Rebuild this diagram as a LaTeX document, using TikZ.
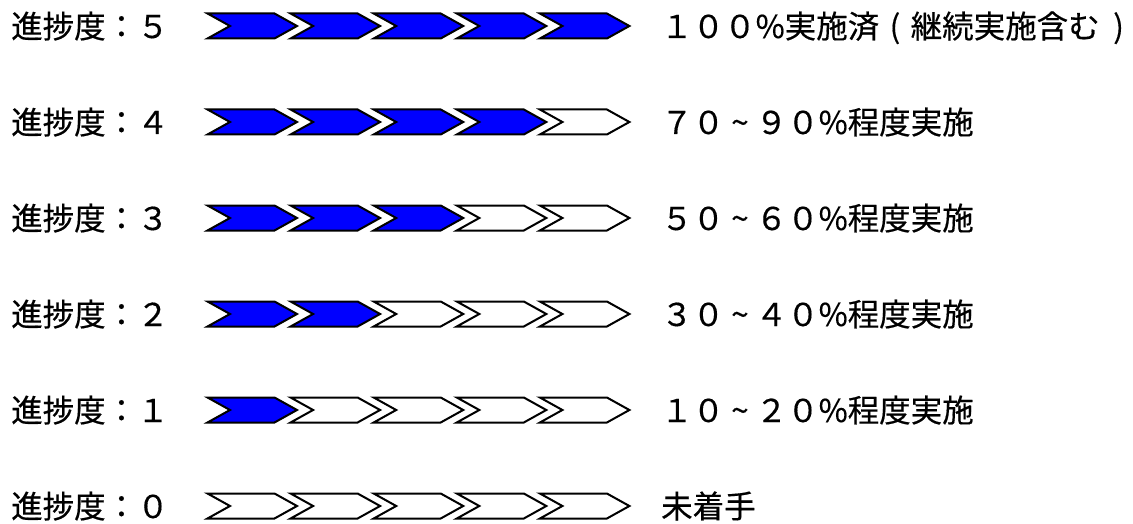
\documentclass[tikz,border=0pt]{standalone}
\usepackage{fontspec}
\setmainfont{Noto Sans CJK JP}[FakeBold=0.4]
\newcommand{\tld}{\makebox[1em]{\char"7E}}
\newcommand{\lp}{\makebox[1em][c]{(}}
\newcommand{\rp}{\makebox[1em][c]{\hspace{0.2em})}}
\begin{document}
\begin{tikzpicture}[x=1pt,y=-1pt,
  chev/.style={draw=black,line width=2pt,line join=miter},
  done/.style={chev,fill=blue},
  todo/.style={chev,fill=white},
  lbl/.style={anchor=base west,inner sep=0pt,font=\fontsize{31.5}{36}\selectfont},
  desc/.style={anchor=base west,inner sep=0pt,font=\fontsize{31.5}{36}\selectfont}]
\useasboundingbox (0,0) rectangle (1133,524);
\foreach \r/\fw/\txt in {5/５/{１００\%実施済\lp 継続実施含む\rp},
                          4/４/{７０\tld ９０\%程度実施},
                          3/３/{５０\tld ６０\%程度実施},
                          2/２/{３０\tld ４０\%程度実施},
                          1/１/{１０\tld ２０\%程度実施},
                          0/０/{未着手}}{
  \pgfmathsetmacro\yc{506-96*\r}
  \node[lbl] (L\r) at (11,\yc+12) {進捗度：\fw};
  \node[desc] (R\r) at (661,\yc+12) {\txt};
  \foreach \i in {0,...,4}{
    \pgfmathsetmacro\xl{207.5+83.1*\i}
    \ifnum\i<\r \def\st{done}\else\def\st{todo}\fi
    \draw[\st] (\xl,\yc-12.5) -- ++(67,0) -- ++(22.5,12.5) -- ++(-22.5,12.5)
      -- ++(-67,0) -- ++(22.5,-12.5) -- cycle;
  }
}
\end{tikzpicture}
\end{document}
